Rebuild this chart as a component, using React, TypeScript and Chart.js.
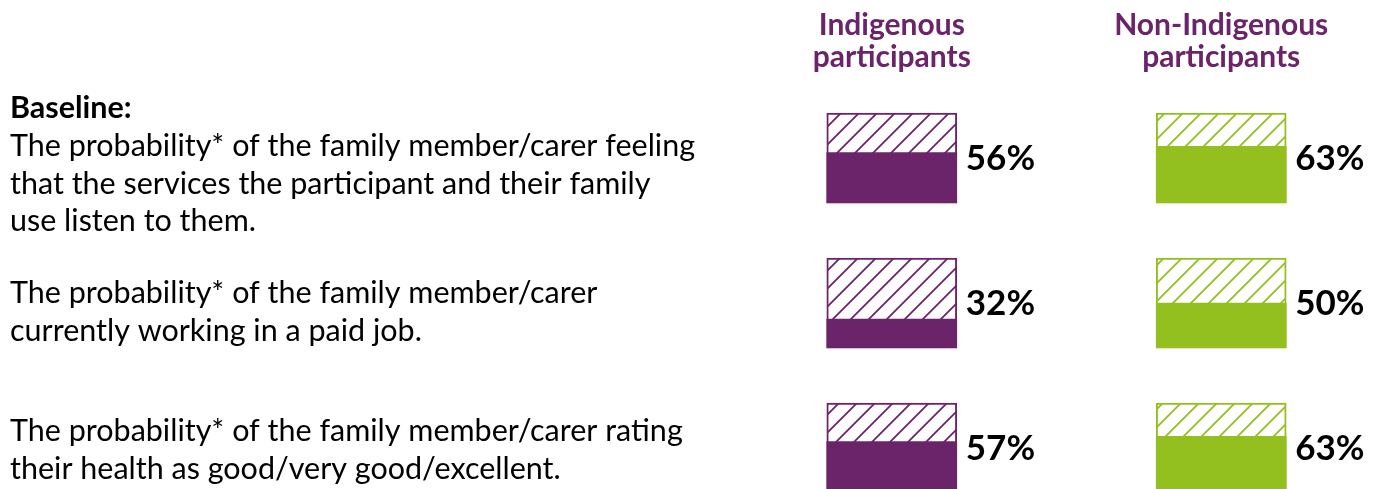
import React, { useEffect, useRef } from "react";
import { Chart, registerables } from "chart.js";

Chart.register(...registerables);

// ---- data ----
const groupLabels = ["Indigenous participants", "Non-Indigenous participants"];
const groupHeaderLines = [["Indigenous", "participants"], ["Non-Indigenous", "participants"]];
const sectionTitle = "Baseline:";
const rowTexts = [
  [
    "The probability* of the family member/carer feeling",
    "that the services the participant and their family",
    "use listen to them.",
  ],
  ["The probability* of the family member/carer", "currently working in a paid job."],
  ["The probability* of the family member/carer rating", "their health as good/very good/excellent."],
];
const indigenousValues = [56, 32, 57];
const nonIndigenousValues = [63, 50, 63];

// ---- styling ----
const PURPLE = "#6b246a";
const GREEN = "#93c01f";
const FULL = 100; // a full box = 100%
const ROW_PITCH = 161.1; // value units between row bases
const FONT = "Lato, 'Open Sans', sans-serif";

function makeHatch(color: string): CanvasPattern | string {
  const s = 18;
  const c = document.createElement("canvas");
  c.width = s;
  c.height = s;
  const g = c.getContext("2d");
  if (!g) return "#fff";
  g.fillStyle = "#ffffff";
  g.fillRect(0, 0, s, s);
  g.strokeStyle = color;
  g.lineWidth = 1.8;
  g.lineCap = "square";
  g.beginPath();
  g.moveTo(0, s);
  g.lineTo(s, 0);
  g.moveTo(-2, 2);
  g.lineTo(2, -2);
  g.moveTo(s - 2, s + 2);
  g.lineTo(s + 2, s - 2);
  g.stroke();
  const p = g.createPattern(c, "repeat");
  return p || "#fff";
}

const rowBase = (i: number) => (rowTexts.length - 1 - i) * ROW_PITCH;

export default function App() {
  const ref = useRef<HTMLCanvasElement | null>(null);

  useEffect(() => {
    if (!ref.current) return;
    const series = [indigenousValues, nonIndigenousValues];
    const colors = [PURPLE, GREEN];

    const fillSets = series.map((vals, g) => ({
      label: groupLabels[g],
      data: vals.map((v, i) => ({ x: g, y: [rowBase(i), rowBase(i) + (v / 100) * FULL] })),
      backgroundColor: colors[g],
      borderWidth: 0,
      order: 1,
    }));
    const hatchSets = series.map((vals, g) => ({
      label: groupLabels[g] + " (remainder)",
      data: vals.map((_v, i) => ({ x: g, y: [rowBase(i), rowBase(i) + FULL] })),
      backgroundColor: makeHatch(colors[g]),
      borderColor: colors[g],
      borderWidth: 2,
      borderSkipped: false,
      order: 2,
    }));

    const textPlugin = {
      id: "texts",
      afterDatasetsDraw(chart: any) {
        const ctx: CanvasRenderingContext2D = chart.ctx;
        const xs = chart.scales.x;
        const ys = chart.scales.y;
        ctx.save();
        // headers
        ctx.fillStyle = PURPLE;
        ctx.font = `bold 30px ${FONT}`;
        ctx.textAlign = "center";
        ctx.textBaseline = "alphabetic";
        groupHeaderLines.forEach((lines, g) => {
          const cx = xs.getPixelForValue(g);
          lines.forEach((ln, k) => ctx.fillText(ln, cx, 35 + k * 32));
        });
        // left texts
        ctx.fillStyle = "#000";
        ctx.textAlign = "left";
        ctx.font = `bold 30.5px ${FONT}`;
        ctx.fillText(sectionTitle, 10, 118);
        ctx.font = `30.5px ${FONT}`;
        const firstBaselines = [156, 303, 441];
        rowTexts.forEach((lines, i) => {
          lines.forEach((ln, k) => ctx.fillText(ln, 10, firstBaselines[i] + k * 37.5));
        });
        // percentage labels
        ctx.font = `bold 35px ${FONT}`;
        ctx.textBaseline = "middle";
        series.forEach((vals, g) => {
          const meta = chart.getDatasetMeta(g);
          vals.forEach((v, i) => {
            const el = meta.data[i];
            const right = el.x + el.width / 2;
            const top = ys.getPixelForValue(rowBase(i) + FULL);
            const bottom = ys.getPixelForValue(rowBase(i));
            ctx.fillText(`${v}%`, right + 9, (top + bottom) / 2 + 1);
          });
        });
        ctx.restore();
      },
    };

    const chart = new Chart(ref.current, {
      type: "bar",
      data: { datasets: [...fillSets, ...hatchSets] as any },
      options: {
        animation: false,
        responsive: false,
        devicePixelRatio: 1,
        layout: { padding: { left: 760, right: 22, top: 0, bottom: 0 } },
        datasets: { bar: { grouped: false, barThickness: 130 } } as any,
        scales: {
          x: { type: "linear", min: -0.4, max: 1.4, offset: false, display: false },
          y: { type: "linear", min: -7.8, max: 547.8, display: false },
        },
        plugins: { legend: { display: false }, tooltip: { enabled: false } },
      },
      plugins: [textPlugin],
    });
    return () => chart.destroy();
  }, []);

  return (
    <div
      style={{
        position: "fixed",
        left: 0,
        top: 0,
        width: 1375,
        height: 489,
        overflow: "hidden",
        background: "#fff",
      }}
    >
      <canvas ref={ref} width={1375} height={500} style={{ width: 1375, height: 500, display: "block" }} />
    </div>
  );
}
